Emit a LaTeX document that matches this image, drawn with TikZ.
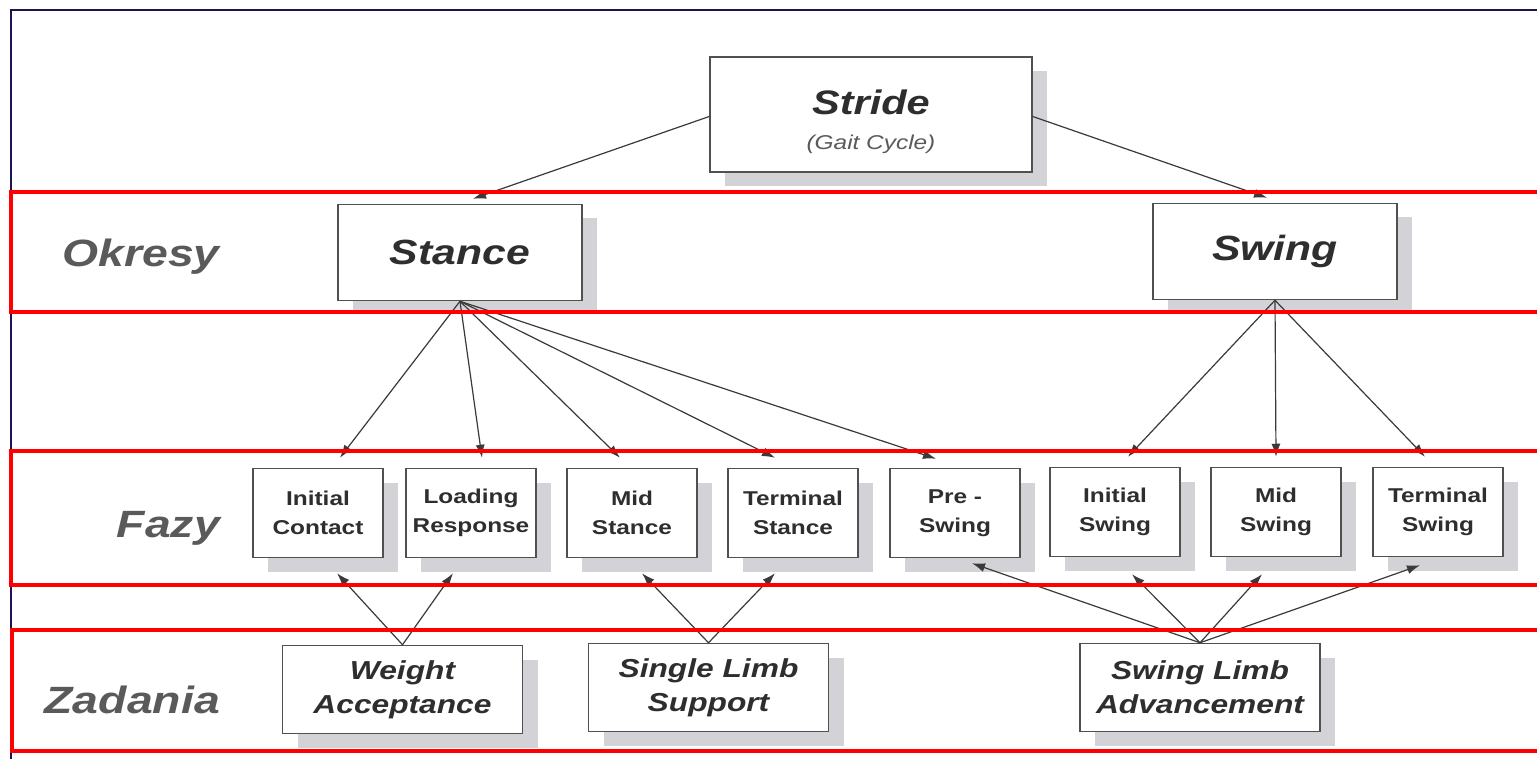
\documentclass[tikz,border=0pt]{standalone}
\usepackage{fontspec}
\setmainfont{Liberation Sans}[FakeStretch=1.22]
\usepackage{tikz}
\usetikzlibrary{positioning,shadows,arrows.meta}
\definecolor{boxline}{HTML}{505050}
\definecolor{boxtext}{HTML}{2E2E2E}
\definecolor{shadowgray}{HTML}{D3D3D7}
\definecolor{labelgray}{HTML}{5A5A5A}
\definecolor{arrowgray}{HTML}{3A3A3A}
\definecolor{framenavy}{HTML}{1E1250}
\tikzset{
    shadowbox/.style={
        rectangle,
        draw=boxline,
        line width=1.5pt,
        fill=white,
        text=boxtext,
        align=center,
        inner sep=0pt,
        drop shadow={shadow xshift=15pt, shadow yshift=-14pt, fill=shadowgray, opacity=1}
    },
    arrow/.style={
        ->,
        >={Latex[length=13pt,width=9pt]},
        line width=1.2pt,
        draw=arrowgray
    }
}
\tikzstyle{cycle} = [shadowbox, minimum width=322pt, minimum height=115pt, font=\fontsize{20}{35}\selectfont]
\tikzstyle{period} = [shadowbox, minimum width=244pt, minimum height=96pt, font=\fontsize{35}{40}\selectfont\bfseries\itshape]
\tikzstyle{phase} = [shadowbox, minimum width=130pt, minimum height=89pt, font=\fontsize{20}{29}\selectfont\bfseries]
\tikzstyle{task} = [shadowbox, minimum width=240pt, minimum height=88pt, font=\fontsize{26}{34}\selectfont\bfseries\itshape]
\tikzstyle{rowlabel} = [anchor=base east, inner sep=0pt, text=labelgray, font=\fontsize{38}{40}\selectfont\bfseries\itshape]
\tikzstyle{band} = [draw=red, line width=4.5pt]

\begin{document}
\begin{tikzpicture}[x=1pt, y=-1pt]
          \useasboundingbox (0,0) rectangle (1537,759);
          \clip (0,0) rectangle (1537,759);
          \fill [white] (0,0) rectangle (1537,759);
          \draw [framenavy, line width=2pt] (11,770) -- (11,10) -- (1550,10);
          % top levels
          \node (stride) [cycle] at (871,114.5) {{\fontsize{34}{35}\selectfont\bfseries\itshape\rule{0pt}{40pt}Stride}\\{\itshape\color{labelgray}(Gait Cycle)}};
          \node (stance) [period] at (460,252.5) {Stance};
          \node (swing) [period] at (1275,251.5) {Swing};
          % phases
          \node (initcontact) [phase] at (318,513) {Initial\\Contact};
          \node (loadresp) [phase] at (471,513) {Loading\\Response};
          \node (midstance) [phase] at (632,513) {Mid\\Stance};
          \node (termstance) [phase] at (793,513) {Terminal\\Stance};
          \node (preswing) [phase] at (955,513) {Pre -\\Swing};
          \node (initswing) [phase] at (1115,512) {Initial\\Swing};
          \node (midswing) [phase] at (1276,512) {Mid\\Swing};
          \node (termswing) [phase] at (1438,512) {Terminal\\Swing};
          % tasks
          \node (weightacc) [task] at (402.5,689.5) {Weight\\Acceptance};
          \node (singlelimb) [task] at (708.5,687.5) {Single Limb\\Support};
          \node (swinglimb) [task] at (1200,687.5) {Swing Limb\\Advancement};
          % connectors
          \draw [arrow] ([yshift=-2pt]stride.west) -- ([xshift=13pt,yshift=5pt]stance.north);
          \draw [arrow] ([yshift=-2pt]stride.east) -- ([xshift=-8pt,yshift=5pt]swing.north);
          \draw [arrow] (stance.south) -- ([xshift=22pt,yshift=10pt]initcontact.north);
          \draw [arrow] (stance.south) -- ([xshift=11pt,yshift=10pt]loadresp.north);
          \draw [arrow] (stance.south) -- ([xshift=-12pt,yshift=10pt]midstance.north);
          \draw [arrow] (stance.south) -- ([xshift=-18pt,yshift=10pt]termstance.north);
          \draw [arrow] (stance.south) -- ([xshift=-19pt,yshift=9pt]preswing.north);
          \draw [arrow] (swing.south) -- ([xshift=13pt,yshift=10pt]initswing.north);
          \draw [arrow] (swing.south) -- ([yshift=10pt]midswing.north);
          \draw [arrow] (swing.south) -- ([xshift=-13pt,yshift=10pt]termswing.north);
          \draw [arrow] (weightacc.north) -- ([xshift=19pt,yshift=-15pt]initcontact.south);
          \draw [arrow] (weightacc.north) -- ([xshift=-18pt,yshift=-15pt]loadresp.south);
          \draw [arrow] (singlelimb.north) -- ([xshift=10pt,yshift=-15pt]midstance.south);
          \draw [arrow] (singlelimb.north) -- ([xshift=-18pt,yshift=-15pt]termstance.south);
          \draw [arrow] (swinglimb.north) -- ([xshift=17pt,yshift=-5pt]preswing.south);
          \draw [arrow] (swinglimb.north) -- ([xshift=17pt,yshift=-17pt]initswing.south);
          \draw [arrow] (swinglimb.north) -- ([xshift=-14pt,yshift=-17pt]midswing.south);
          \draw [arrow] (swinglimb.north) -- ([xshift=-18pt,yshift=-8pt]termswing.south);
          % rows
          \draw [band] (11,192) rectangle (1560,312);
          \draw [band] (11,451) rectangle (1560,585);
          \draw [band] (12,630) rectangle (1560,751);
          \node (okresy) [rowlabel] at (220,267) {Okresy};
          \node (fazy) [rowlabel] at (220,537) {Fazy};
          \node (zadania) [rowlabel] at (220,713) {Zadania};
        \end{tikzpicture}
\end{document}
